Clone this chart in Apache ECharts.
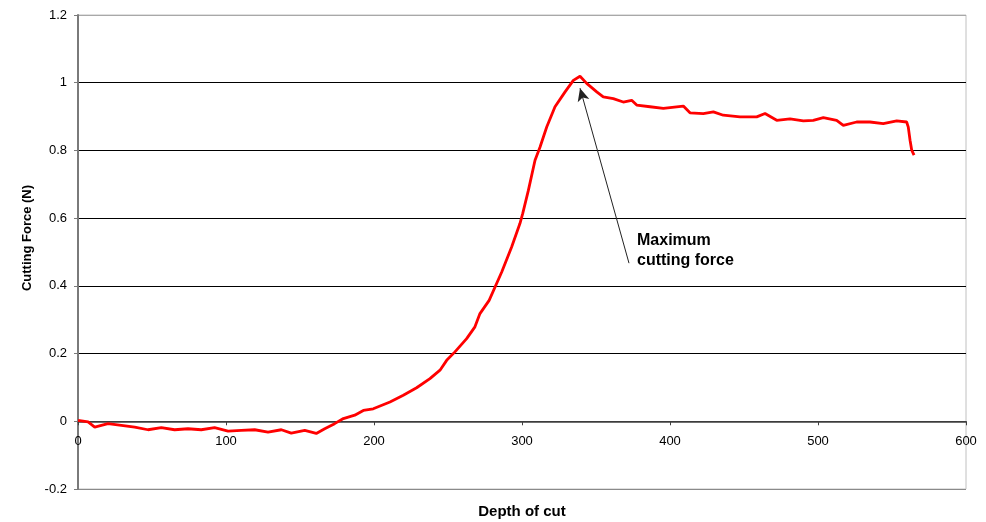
<!DOCTYPE html>
<html>
<head>
<meta charset="utf-8">
<script src="https://cdn.jsdelivr.net/npm/echarts@6/dist/echarts.min.js"></script>
<style>html,body{margin:0;padding:0;background:#fff}#c{width:986px;height:522px}</style>
</head>
<body>
<div id="c"></div>
<script>
const depth = [0,6.8,11.3,20.3,29.3,38.3,47.3,56.3,65.3,74.3,83.3,92.3,101.4,110.3,119.4,128.4,137.4,144.1,153.2,161,166.7,173.4,179.3,187,192.8,199.5,210.8,219.8,228.8,237.8,244.6,249.1,254.7,262.6,268.2,271.6,277.8,286.3,293.0,298.6,300.5,304.3,308.8,312.2,316.7,322.3,329.1,334.7,339.2,343.7,350.5,354.9,361.7,368.4,374.1,377.5,386.5,395.5,409,413.5,422.5,429.3,436,447.3,458.6,464.2,472.1,481.1,490.1,496.8,503.6,512.6,517.1,526.1,535.1,544.1,553.2,559.9,561,562.2,563.3,564.9];
const force = [0.003,-0.002,-0.017,-0.007,-0.012,-0.017,-0.025,-0.019,-0.025,-0.022,-0.025,-0.019,-0.029,-0.027,-0.025,-0.032,-0.025,-0.035,-0.027,-0.036,-0.022,-0.007,0.008,0.018,0.032,0.037,0.057,0.077,0.099,0.126,0.151,0.180,0.205,0.244,0.279,0.318,0.357,0.441,0.515,0.584,0.614,0.682,0.771,0.810,0.869,0.929,0.973,1.007,1.019,0.998,0.973,0.958,0.953,0.943,0.948,0.934,0.929,0.924,0.931,0.911,0.909,0.914,0.904,0.899,0.899,0.909,0.889,0.893,0.887,0.889,0.897,0.889,0.874,0.884,0.884,0.879,0.887,0.884,0.869,0.830,0.801,0.786];
const arrowFrom = [372.3, 0.467];
const arrowTo = [339.2, 0.984];
const annotationText = 'Maximum\ncutting force';
const xTitle = 'Depth of cut';
const yTitle = 'Cutting Force (N)';

const FONT = '"Liberation Sans", Arial, sans-serif';
const chart = echarts.init(document.getElementById('c'), null, {renderer: 'canvas'});
chart.setOption({
  animation: false,
  backgroundColor: '#fff',
  grid: {left: 78, right: 20, top: 15, bottom: 33, show: true, borderColor: '#c0c0c0', borderWidth: 1},
  xAxis: {
    type: 'value', min: 0, max: 600, interval: 100,
    axisLine: {onZero: true, lineStyle: {color: '#404040', width: 1.5}},
    axisTick: {show: true, length: 4, lineStyle: {color: '#404040'}},
    axisLabel: {color: '#000', fontSize: 13, fontFamily: FONT, margin: -54},
    splitLine: {show: false}
  },
  yAxis: {
    type: 'value', min: -0.2, max: 1.2, interval: 0.2,
    axisLine: {show: true, onZero: false, lineStyle: {color: '#7a7a7a', width: 2}},
    axisTick: {show: true, length: 4, lineStyle: {color: '#7a7a7a'}},
    axisLabel: {color: '#000', fontSize: 13, fontFamily: FONT, margin: 11,
      formatter: v => String(+v.toFixed(1))},
    splitLine: {show: true, lineStyle: {width: 1,
      color: ['#8a8a8a','#303030','#000','#000','#000','#000','#000','#a8a8a8']}}
  },
  series: [{
    type: 'line',
    data: depth.map((d, i) => [d, force[i]]),
    showSymbol: false,
    lineStyle: {color: '#ff0000', width: 2.8},
    itemStyle: {color: '#ff0000'},
    z: 3,
    markLine: {
      silent: true,
      symbol: ['none', 'arrow'],
      symbolSize: [9, 13],
      label: {show: false},
      lineStyle: {color: '#222', width: 1, type: 'solid'},
      data: [[{coord: arrowFrom}, {coord: arrowTo}]]
    }
  }],
  graphic: [
    {type: 'text', left: 637, top: 231, style: {text: annotationText, font: 'bold 16px ' + FONT, fill: '#000', lineHeight: 20}},
    {type: 'text', x: 27, y: 238, rotation: Math.PI / 2, style: {text: yTitle, font: 'bold 13px ' + FONT, fill: '#000', align: 'center', verticalAlign: 'middle'}},
    {type: 'text', x: 522, y: 512, style: {text: xTitle, font: 'bold 15px ' + FONT, fill: '#000', align: 'center', verticalAlign: 'middle'}}
  ]
});
</script>
</body>
</html>
